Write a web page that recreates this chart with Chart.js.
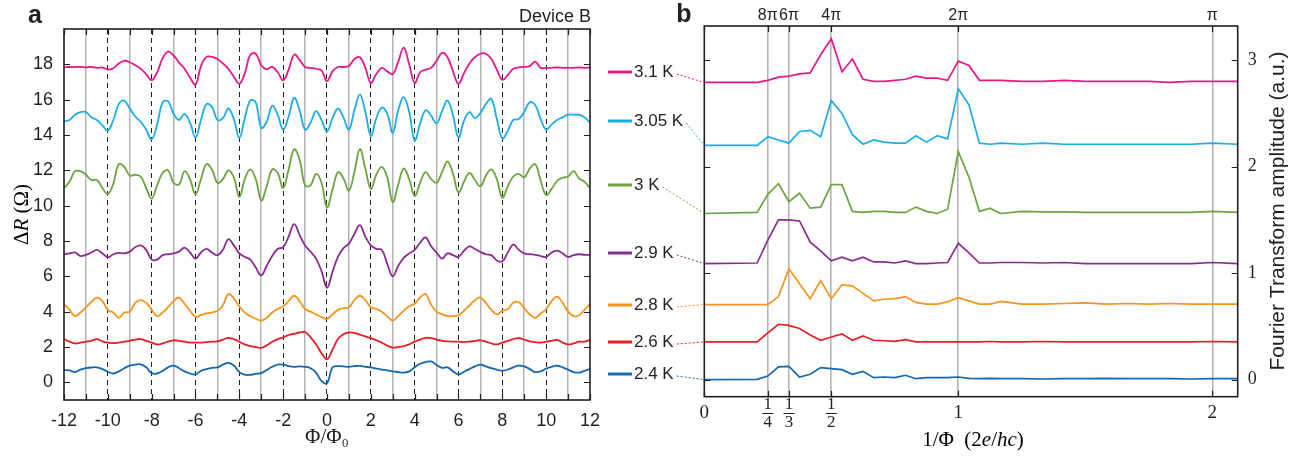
<!DOCTYPE html>
<html>
<head>
<meta charset="utf-8">
<title>Device B oscillations</title>
<script src="https://cdn.jsdelivr.net/npm/chart.js@4.4.1/dist/chart.umd.min.js"></script>
<style>
    html, body { margin: 0; padding: 0; background: #fff; }
    #wrap { position: relative; width: 1310px; height: 463px; }
    #chartA { position: absolute; left: 0; top: 0; width: 610px; height: 463px; }
    #chartB { position: absolute; left: 600px; top: 0; width: 710px; height: 463px; }
</style>
</head>
<body>
<div id="wrap">
    <canvas id="chartA" width="610" height="463"></canvas>
    <canvas id="chartB" width="710" height="463"></canvas>
</div>
<script>
// ---- panel a: magnetoresistance vs flux ----
const phi = [-12, -11.75, -11.5, -11.25, -11, -10.75, -10.5, -10.25, -10, -9.75, -9.5, -9.25, -9,
    -8.75, -8.5, -8.25, -8, -7.75, -7.5, -7.25, -7, -6.75, -6.5, -6.25, -6, -5.75, -5.5, -5.25, -5,
    -4.75, -4.5, -4.25, -4, -3.75, -3.5, -3.25, -3, -2.75, -2.5, -2.25, -2, -1.75, -1.5, -1.25, -1,
    -0.75, -0.5, -0.25, 0, 0.25, 0.5, 0.75, 1, 1.25, 1.5, 1.75, 2, 2.25, 2.5, 2.75, 3, 3.25, 3.5,
    3.75, 4, 4.25, 4.5, 4.75, 5, 5.25, 5.5, 5.75, 6, 6.25, 6.5, 6.75, 7, 7.25, 7.5, 7.75, 8, 8.25,
    8.5, 8.75, 9, 9.25, 9.5, 9.75, 10, 10.25, 10.5, 10.75, 11, 11.25, 11.5, 11.75, 12];

const dR31 = [17.83, 17.85, 17.84, 17.86, 17.83, 17.85, 17.8, 17.82, 17.7, 17.78, 18.05, 18.2, 18.12, 17.95, 17.75, 17.45, 17.1, 17.55, 18.35, 18.72, 18.5, 18.1, 17.75, 17.25, 16.85,
    17.9, 18.42, 18.42, 18.3, 18.05, 17.75, 17.3, 16.9, 17.5, 18.55, 18.6, 17.95, 17.72, 17.85, 17.55, 17.1, 17.7, 18.55, 18.25, 17.85, 17.8, 17.75, 17.65, 17.05,
    17.6, 17.85, 17.85, 17.9, 18.3, 18.4, 17.8, 16.95, 17.45, 17.8, 17.6, 17.45, 18.15, 18.95, 18.0, 16.95, 17.55, 17.7, 17.8, 18.2, 18.65, 18.4, 17.6, 16.9,
    17.5, 18.05, 18.4, 18.6, 18.6, 18.3, 17.7, 17.12, 17.4, 17.75, 17.83, 17.85, 17.9, 18.15, 17.8, 17.8, 17.8, 17.82, 17.8, 17.8, 17.8, 17.82, 17.8, 17.82];
const dR305 = [14.78, 14.85, 15.15, 15.3, 15.3, 15.0, 14.85, 14.55, 14.25, 14.85, 15.75, 15.95, 15.5, 15.05, 14.75, 14.3, 13.75, 14.6, 15.85, 15.9, 15.2, 14.85, 15.2, 14.7, 13.85,
    14.85, 15.75, 15.6, 14.85, 14.95, 15.5, 14.9, 13.84, 14.95, 15.95, 15.85, 14.4, 14.75, 15.65, 15.15, 14.3, 15.05, 16.1, 15.4, 14.3, 14.7, 15.35, 14.85, 14.2,
    14.95, 15.5, 15.0, 14.3, 15.4, 16.3, 15.3, 13.95, 14.95, 15.55, 15.2, 14.12, 15.4, 16.15, 15.3, 13.7, 14.65, 15.4, 15.1, 14.65, 15.35, 15.95, 15.1, 13.85,
    14.8, 15.3, 14.95, 15.25, 15.75, 16.05, 14.9, 13.8, 14.25, 14.85, 14.9, 15.3, 15.85, 15.7, 14.9, 14.3, 14.6, 14.85, 15.0, 15.15, 15.15, 15.15, 15.0, 14.7];
const dR30 = [11.0, 11.35, 11.95, 11.95, 11.75, 11.45, 11.45, 11.0, 10.65, 11.25, 12.35, 12.2, 11.7, 11.75, 11.65, 11.0, 10.4, 11.15, 11.85, 12.0, 11.3, 11.2, 11.95, 11.5, 10.65,
    11.5, 12.35, 12.05, 11.3, 11.5, 12.0, 11.6, 10.5, 11.5, 12.05, 11.5, 10.3, 11.1, 12.05, 11.85, 11.0, 12.05, 13.2, 12.6, 11.15, 11.15, 11.8, 11.3, 9.9,
    10.9, 11.9, 11.55, 10.85, 11.9, 13.2, 12.1, 10.95, 11.75, 12.2, 11.6, 10.2, 11.2, 12.1, 11.5, 10.55, 11.3, 11.9, 11.5, 11.3, 11.9, 12.5, 11.8, 10.75,
    11.35, 11.85, 11.45, 11.1, 11.7, 12.05, 11.5, 10.45, 11.1, 11.65, 11.8, 11.6, 12.1, 12.35, 11.4, 10.6, 10.95, 11.4, 11.58, 11.65, 11.95, 11.55, 11.35, 11.0];
const dR29 = [7.25, 7.3, 7.35, 7.15, 7.22, 7.35, 7.5, 7.3, 7.08, 7.25, 7.33, 7.3, 7.4, 7.65, 7.75, 7.5, 6.95, 6.95, 7.2, 7.25, 7.3, 7.4, 7.63, 7.35, 7.0,
    7.35, 7.55, 7.35, 7.2, 7.5, 8.1, 7.75, 7.3, 7.1, 6.95, 6.5, 6.05, 6.6, 7.15, 7.55, 7.65, 8.25, 8.95, 8.35, 7.75, 7.4, 7.0, 6.3, 5.35,
    6.25, 7.1, 7.6, 7.85, 8.4, 8.9, 8.25, 7.75, 7.55, 7.5, 6.7, 6.0, 6.6, 7.05, 7.3, 7.5, 7.9, 8.2, 7.7, 7.35, 7.0, 7.3, 7.2, 7.1,
    7.45, 7.7, 7.55, 7.38, 7.25, 7.2, 6.9, 6.85, 7.35, 7.8, 7.5, 7.3, 7.25, 7.22, 7.15, 7.1, 7.35, 7.45, 7.3, 7.1, 7.2, 7.25, 7.22, 7.22];
const dR28 = [4.43, 4.1, 3.75, 3.95, 4.25, 4.55, 4.8, 4.6, 4.1, 3.95, 3.65, 3.95, 4.0, 4.5, 4.65, 4.5, 4.1, 3.75, 3.95, 4.25, 4.6, 4.8, 4.45, 4.05, 3.71,
    3.8, 3.9, 3.95, 4.05, 4.35, 5.0, 4.75, 4.3, 3.95, 3.75, 3.6, 3.5, 3.65, 3.95, 4.15, 4.3, 4.6, 4.9, 4.6, 4.15, 4.0, 3.85, 3.7, 3.58,
    3.85, 4.1, 4.2, 4.25, 4.65, 4.9, 4.65, 4.25, 4.15, 4.0, 3.75, 3.5, 3.75, 4.05, 4.3, 4.45, 4.8, 5.0, 4.4, 4.0, 3.85, 3.75, 3.75, 3.8,
    4.05, 4.35, 4.65, 4.8, 4.5, 4.1, 3.85, 4.05, 4.15, 4.5, 4.55, 4.2, 3.85, 3.65, 3.9, 4.15, 4.6, 4.85, 4.5, 4.0, 3.75, 3.8, 4.1, 4.45];
const dR26 = [2.45, 2.3, 2.2, 2.25, 2.3, 2.35, 2.45, 2.32, 2.25, 2.22, 2.25, 2.3, 2.35, 2.42, 2.45, 2.35, 2.25, 2.15, 2.2, 2.3, 2.38, 2.35, 2.3, 2.25, 2.25,
    2.25, 2.28, 2.3, 2.32, 2.42, 2.52, 2.45, 2.3, 2.15, 2.05, 2.0, 1.95, 2.1, 2.3, 2.45, 2.55, 2.68, 2.75, 2.82, 2.85, 2.55, 2.15, 1.65, 1.3,
    1.85, 2.45, 2.72, 2.82, 2.8, 2.7, 2.6, 2.5, 2.38, 2.25, 2.08, 1.97, 2.0, 2.05, 2.15, 2.3, 2.42, 2.52, 2.5, 2.42, 2.35, 2.32, 2.3, 2.3,
    2.28, 2.3, 2.35, 2.38, 2.3, 2.2, 2.15, 2.25, 2.35, 2.45, 2.5, 2.42, 2.32, 2.28, 2.25, 2.3, 2.35, 2.4, 2.25, 2.15, 2.2, 2.3, 2.3, 2.4];
const dR24 = [0.7, 0.68, 0.58, 0.72, 0.8, 0.84, 0.85, 0.75, 0.6, 0.5, 0.62, 0.8, 0.95, 1.0, 1.02, 0.85, 0.52, 0.5, 0.65, 0.85, 0.95, 0.8, 0.62, 0.5, 0.45,
    0.65, 0.75, 0.82, 0.85, 1.0, 1.1, 0.95, 0.58, 0.43, 0.42, 0.48, 0.52, 0.7, 0.88, 1.0, 1.0, 0.92, 0.88, 0.9, 0.88, 0.8, 0.55, 0.08, -0.05,
    0.85, 0.92, 0.9, 0.88, 0.92, 0.93, 0.88, 0.85, 0.78, 0.72, 0.68, 0.62, 0.58, 0.55, 0.62, 0.85, 1.05, 1.15, 1.18, 0.98, 0.82, 0.85, 0.62, 0.45,
    0.6, 0.75, 0.9, 1.0, 0.9, 0.8, 0.72, 0.66, 0.72, 0.85, 0.94, 0.9, 0.75, 0.58, 0.62, 0.78, 0.88, 0.94, 0.85, 0.72, 0.58, 0.55, 0.65, 0.75];

const aXTicks = [-12, -11, -10, -9, -8, -7, -6, -5, -4, -3, -2, -1, 0, 1, 2, 3, 4, 5, 6, 7, 8, 9, 10, 11, 12];
const aYTicks = [0, 2, 4, 6, 8, 10, 12, 14, 16, 18];

// ---- panel b: Fourier transform amplitude ----
const invPhi = [0, 0.208, 0.25, 0.292, 0.333, 0.375, 0.417, 0.458, 0.5, 0.542, 0.583, 0.625, 0.667, 0.708, 0.75,
    0.792, 0.833, 0.875, 0.917, 0.958, 1.0, 1.042, 1.083, 1.125, 1.167, 1.25, 1.333, 1.417, 1.5, 1.583, 1.667,
    1.75, 1.833, 1.917, 2.0, 2.1];

const ft31 = [2.79, 2.79, 2.81, 2.84, 2.85, 2.87, 2.88, 3.05, 3.2, 2.89, 3.01, 2.82, 2.8, 2.8, 2.81, 2.82, 2.85, 2.83,
    2.83, 2.81, 2.99, 2.95, 2.81, 2.81, 2.81, 2.8, 2.8, 2.81, 2.8, 2.8, 2.8, 2.8, 2.79, 2.8, 2.8, 2.8];
const ft305 = [2.2, 2.2, 2.28, 2.25, 2.22, 2.33, 2.34, 2.28, 2.62, 2.5, 2.3, 2.21, 2.25, 2.23, 2.22, 2.22, 2.29, 2.23,
    2.29, 2.26, 2.73, 2.58, 2.22, 2.21, 2.22, 2.21, 2.22, 2.21, 2.21, 2.21, 2.21, 2.21, 2.21, 2.21, 2.22, 2.21];
const ft30 = [1.56, 1.57, 1.74, 1.84, 1.67, 1.75, 1.61, 1.62, 1.83, 1.83, 1.58, 1.57, 1.58, 1.58, 1.57, 1.57, 1.62, 1.58,
    1.56, 1.6, 2.14, 1.9, 1.58, 1.61, 1.56, 1.58, 1.575, 1.575, 1.57, 1.57, 1.57, 1.57, 1.57, 1.57, 1.58, 1.57];
const ft29 = [1.09, 1.095, 1.31, 1.5, 1.5, 1.49, 1.29, 1.21, 1.115, 1.15, 1.115, 1.15, 1.105, 1.105, 1.095, 1.115, 1.09, 1.09,
    1.095, 1.1, 1.28, 1.19, 1.095, 1.095, 1.1, 1.1, 1.095, 1.1, 1.09, 1.09, 1.09, 1.09, 1.09, 1.09, 1.1, 1.09];
const ft28 = [0.705, 0.705, 0.705, 0.78, 1.04, 0.9, 0.76, 0.93, 0.76, 0.89, 0.88, 0.81, 0.74, 0.755, 0.76, 0.78, 0.725, 0.71,
    0.71, 0.73, 0.77, 0.74, 0.71, 0.71, 0.735, 0.71, 0.71, 0.715, 0.72, 0.71, 0.715, 0.71, 0.715, 0.71, 0.71, 0.71];
const ft26 = [0.354, 0.354, 0.44, 0.52, 0.51, 0.48, 0.42, 0.37, 0.4, 0.43, 0.37, 0.41, 0.37, 0.365, 0.36, 0.375, 0.355, 0.355,
    0.355, 0.355, 0.355, 0.355, 0.355, 0.358, 0.355, 0.355, 0.358, 0.355, 0.355, 0.355, 0.355, 0.355, 0.355, 0.355, 0.358, 0.355];
const ft24 = [0.0, 0.003, 0.034, 0.12, 0.125, 0.025, 0.05, 0.113, 0.103, 0.094, 0.05, 0.078, 0.019, 0.025, 0.019, 0.041, 0.009, 0.019,
    0.019, 0.019, 0.025, 0.012, 0.009, 0.012, 0.009, 0.009, 0.006, 0.009, 0.009, 0.012, 0.009, 0.009, 0.009, 0.006, 0.009, 0.009];

const bXTicks = [0, 0.25, 1 / 3, 0.5, 1, 2];
const bXLabels = ['0', '1/4', '1/3', '1/2', '1', '2'];
const bTopTicks = [0.25, 1 / 3, 0.5, 1, 2];
const bTopLabels = ['8π', '6π', '4π', '2π', 'π'];
const bYTicks = [0, 1, 2, 3];

const temps = ['3.1 K', '3.05 K', '3 K', '2.9 K', '2.8 K', '2.6 K', '2.4 K'];
const colors = ['#e8188b', '#1badea', '#6ea33f', '#8b2b91', '#f7941d', '#ec1c24', '#1467b1'];
const resistance = [dR31, dR305, dR30, dR29, dR28, dR26, dR24];
const fourier = [ft31, ft305, ft30, ft29, ft28, ft26, ft24];

const SANS = "'Liberation Sans', Arial, sans-serif";
const SERIF = "'Liberation Serif', 'DejaVu Serif', serif";
const INK = '#231f20';
const GREY = '#b4b4b4';
const CLEAR = 'rgba(0,0,0,0)';

Chart.defaults.color = INK;

// writes a label made of upright and italic pieces, centred on (x, y)
function drawMixed(ctx, parts, x, y, size, angle) {
    ctx.save();
    ctx.translate(x, y);
    ctx.rotate(angle);
    ctx.textAlign = 'left';
    ctx.textBaseline = 'middle';
    let total = 0;
    parts.forEach(p => {
        ctx.font = `${p[1]}${size}px ${SERIF}`;
        total += ctx.measureText(p[0]).width;
    });
    let cx = -total / 2;
    parts.forEach(p => {
        ctx.font = `${p[1]}${size}px ${SERIF}`;
        ctx.fillText(p[0], cx, 0);
        cx += ctx.measureText(p[0]).width;
    });
    ctx.restore();
}

// box around the plot area with short inward tick marks on all four sides
const frameTicks = {
    id: 'frameTicks',
    afterDraw(chart) {
        const { ctx, chartArea: a } = chart;
        const xs = chart.scales.x;
        const ys = chart.scales.y;
        ctx.save();
        ctx.strokeStyle = INK;
        ctx.lineWidth = 1.2;
        ctx.beginPath();
        xs.ticks.forEach(t => {
            const px = Math.round(xs.getPixelForValue(t.value)) + 0.5;
            ctx.moveTo(px, a.bottom); ctx.lineTo(px, a.bottom - 6);
            ctx.moveTo(px, a.top); ctx.lineTo(px, a.top + 6);
        });
        ys.ticks.forEach(t => {
            const py = Math.round(ys.getPixelForValue(t.value)) + 0.5;
            ctx.moveTo(a.left, py); ctx.lineTo(a.left + 6, py);
            ctx.moveTo(a.right, py); ctx.lineTo(a.right - 6, py);
        });
        ctx.stroke();
        ctx.lineWidth = 1.6;
        ctx.strokeRect(a.left, a.top, a.right - a.left, a.bottom - a.top);
        ctx.restore();
    }
};

const panelAText = {
    id: 'panelAText',
    afterDraw(chart) {
        const ctx = chart.ctx;
        const a = chart.chartArea;
        ctx.save();
        ctx.fillStyle = INK;
        ctx.textBaseline = 'middle';
        ctx.font = `bold 25px ${SANS}`;
        ctx.textAlign = 'center';
        ctx.fillText('a', 35, 16);
        ctx.font = `18px ${SANS}`;
        ctx.textAlign = 'right';
        ctx.fillText('Device B', 591, 17);
        ctx.restore();
        drawMixed(ctx, [['Δ', ''], ['R', 'italic '], [' (Ω)', '']], 22, (a.top + a.bottom) / 2, 21, -Math.PI / 2);
    }
};

// legend rows sit in the gap between the panels, linked to each trace by a dotted line
const legendRows = [72, 121, 185, 253, 305, 342, 374];

const panelBText = {
    id: 'panelBText',
    afterDraw(chart) {
        const { ctx, chartArea: a } = chart;
        const xs = chart.scales.x;
        const ys = chart.scales.y;
        ctx.save();
        ctx.fillStyle = INK;
        ctx.textBaseline = 'middle';
        ctx.font = `bold 25px ${SANS}`;
        ctx.textAlign = 'center';
        ctx.fillText('b', 84, 15);

        // legend
        ctx.font = `17px ${SANS}`;
        ctx.textAlign = 'left';
        temps.forEach((name, i) => {
            const y = legendRows[i];
            ctx.strokeStyle = colors[i];
            ctx.lineWidth = 3;
            ctx.setLineDash([]);
            ctx.beginPath();
            ctx.moveTo(8, y); ctx.lineTo(32, y);
            ctx.stroke();
            ctx.fillStyle = INK;
            ctx.fillText(name, 34, y);
            const w = ctx.measureText(name).width;
            ctx.lineWidth = 1;
            ctx.setLineDash([2, 2]);
            ctx.beginPath();
            ctx.moveTo(34 + w + 3, y + 2);
            ctx.lineTo(a.left, ys.getPixelForValue(fourier[i][0]));
            ctx.stroke();
        });
        ctx.setLineDash([]);

        // bottom tick labels, fractions stacked
        ctx.fillStyle = INK;
        ctx.strokeStyle = INK;
        ctx.textAlign = 'center';
        bXTicks.forEach((v, i) => {
            const px = xs.getPixelForValue(v);
            const lab = bXLabels[i];
            if (lab.includes('/')) {
                const [n, d] = lab.split('/');
                ctx.font = `17px ${SERIF}`;
                ctx.fillText(n, px, 404.5);
                ctx.fillText(d, px, 422.5);
                ctx.lineWidth = 1;
                ctx.beginPath();
                ctx.moveTo(px - 5.5, 413.5); ctx.lineTo(px + 5.5, 413.5);
                ctx.stroke();
            } else {
                ctx.font = `19px ${SERIF}`;
                ctx.fillText(lab, px, 413);
            }
        });

        // right-hand axis title, reading upwards
        ctx.font = `21px ${SANS}`;
        ctx.translate(678, 211);
        ctx.rotate(-Math.PI / 2);
        ctx.fillText('Fourier Transform amplitude (a.u.)', 0, 0);
        ctx.restore();

        drawMixed(ctx, [['1/Φ  (2', ''], ['e', 'italic '], ['/', ''], ['hc', 'italic '], [')', '']], 373, 440, 21, 0);
    }
};

function oddOrEven(c) {
    if (!c.tick) return null;
    const v = Math.abs(c.tick.value);
    if (v === 12) return 'edge';
    return v % 2 === 1 ? 'odd' : 'even';
}

const chartA = new Chart(document.getElementById('chartA'), {
    type: 'line',
    data: {
        datasets: temps.map((name, i) => ({
            label: name,
            data: phi.map((x, k) => ({ x: x, y: resistance[i][k] })),
            borderColor: colors[i],
            borderWidth: 1.8,
            pointRadius: 0,
            tension: 0.4
        }))
    },
    options: {
        responsive: false,
        animation: false,
        layout: { padding: { top: 29, right: 13, left: 0, bottom: 0 } },
        plugins: { legend: { display: false }, tooltip: { enabled: false } },
        scales: {
            x: {
                type: 'linear',
                min: -12,
                max: 12,
                afterBuildTicks: s => { s.ticks = aXTicks.map(v => ({ value: v })); },
                afterFit: s => { s.height = 63; },
                ticks: {
                    autoSkip: false,
                    maxRotation: 0,
                    padding: 10,
                    font: { family: SANS, size: 18 },
                    callback: v => (v % 2 === 0 ? String(v) : '')
                },
                grid: {
                    drawTicks: false,
                    color: c => {
                        const k = oddOrEven(c);
                        if (k === 'odd') return GREY;
                        if (k === 'even') return INK;
                        return CLEAR;
                    },
                    lineWidth: c => (oddOrEven(c) === 'odd' ? 1.5 : 1)
                },
                border: {
                    display: false,
                    dash: c => (oddOrEven(c) === 'even' ? [5, 4] : [])
                },
                title: {
                    display: true,
                    text: 'Φ/Φ₀',
                    font: { family: SERIF, size: 21 },
                    padding: { top: 0, bottom: 13 }
                }
            },
            y: {
                min: -1,
                max: 20,
                afterBuildTicks: s => { s.ticks = aYTicks.map(v => ({ value: v })); },
                afterFit: s => { s.width = 64; },
                ticks: { padding: 11, font: { family: SANS, size: 18 } },
                grid: { display: false, drawTicks: false },
                border: { display: false }
            }
        }
    },
    plugins: [frameTicks, panelAText]
});

const chartB = new Chart(document.getElementById('chartB'), {
    type: 'line',
    data: {
        datasets: temps.map((name, i) => ({
            label: name,
            data: invPhi.map((x, k) => ({ x: x, y: fourier[i][k] })),
            borderColor: colors[i],
            borderWidth: 1.7,
            pointRadius: 0,
            tension: 0
        }))
    },
    options: {
        responsive: false,
        animation: false,
        layout: { padding: { top: 0, right: 0, left: 104.3, bottom: 0 } },
        plugins: { legend: { display: false }, tooltip: { enabled: false } },
        scales: {
            x: {
                type: 'linear',
                position: 'bottom',
                min: 0,
                max: 2.1,
                afterBuildTicks: s => { s.ticks = bXTicks.map(v => ({ value: v })); },
                afterFit: s => { s.height = 66.3; },
                ticks: { display: false },
                grid: {
                    drawTicks: false,
                    color: c => (c.tick && c.tick.value > 0 ? GREY : CLEAR),
                    lineWidth: 1.6
                },
                border: { display: false }
            },
            xTop: {
                type: 'linear',
                position: 'top',
                min: 0,
                max: 2.1,
                afterBuildTicks: s => { s.ticks = bTopTicks.map(v => ({ value: v })); },
                afterFit: s => { s.height = 26; },
                ticks: {
                    autoSkip: false,
                    maxRotation: 0,
                    padding: 1,
                    font: { family: SANS, size: 16 },
                    callback: (v, i) => bTopLabels[i]
                },
                grid: { display: false, drawTicks: false },
                border: { display: false }
            },
            y: {
                position: 'right',
                min: -0.16,
                max: 3.32,
                afterBuildTicks: s => { s.ticks = bYTicks.map(v => ({ value: v })); },
                afterFit: s => { s.width = 72.3; },
                ticks: { padding: 10, font: { family: SERIF, size: 18 } },
                grid: { display: false, drawTicks: false },
                border: { display: false }
            }
        }
    },
    plugins: [frameTicks, panelBText]
});
</script>
</body>
</html>
